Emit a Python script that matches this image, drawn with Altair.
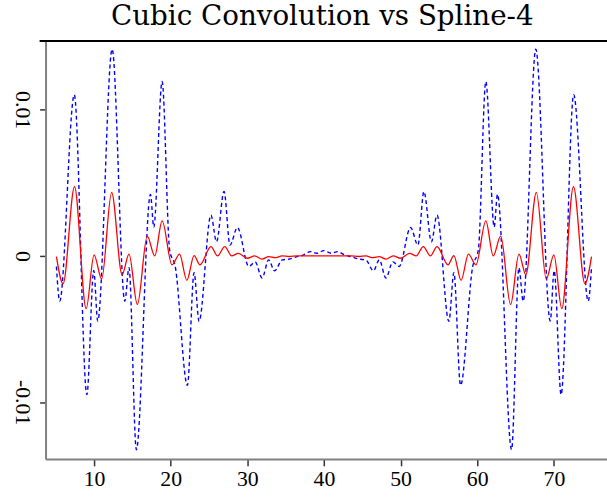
import altair as alt
import pandas as pd

# ---- data ----
red_x = [5.09, 5.96, 7.45, 8.97, 10.0, 10.99, 12.29, 13.66, 14.56, 15.65, 16.94, 17.92, 18.88,
         20.17, 21.15, 22.11, 23.05, 23.82, 25.25, 26.11, 27.05, 27.96, 28.82, 29.99, 30.97,
         31.92, 32.78, 33.60, 34.55, 35.45, 36.5, 40.0,
         43.5, 44.55, 45.45, 46.40, 47.22, 48.08, 49.03, 50.01, 51.18, 52.04, 52.95, 53.89,
         54.75, 56.18, 56.95, 57.89, 58.85, 59.83, 61.12, 62.08, 63.06, 64.35, 65.44, 66.34,
         67.71, 69.01, 70.0, 71.03, 72.55, 74.04, 74.91]
red_y = [-0.00005, -0.00190, 0.00474, -0.00361, 0.00007, -0.00158, 0.00435, -0.00129, 0.00012,
         -0.00332, 0.00135, 0.0, 0.00239, -0.00061, 0.00012, -0.00167, 0.00002, -0.00061,
         0.00063, 0.0, 0.00063, 0.0, 0.00018, -0.00016, 0.0, -0.00022, -0.00005, -0.00012,
         0.0, -0.00004, 0.0, 0.0,
         0.0, -0.00004, 0.0, -0.00012, -0.00005, -0.00022, 0.0, -0.00016, 0.00018, 0.0,
         0.00063, 0.0, 0.00063, -0.00061, 0.00002, -0.00167, 0.00012, -0.00061, 0.00239, 0.0,
         0.00135, -0.00332, 0.00012, -0.00129, 0.00435, -0.00158, 0.00007, -0.00361, 0.00474,
         -0.00190, -0.00005]

blue_x = [5.09, 5.52, 7.42, 9.06, 9.96, 10.48, 12.36, 14.01, 14.56, 15.52, 17.36, 17.79, 18.88,
          19.86, 20.59, 22.18, 23.05, 23.70, 25.25, 25.98, 26.96, 27.74, 28.70, 30.19, 31.02,
          31.92, 32.78, 33.55, 34.55, 35.41, 36.36, 37.35, 38.20, 39.07, 40.00,
          40.93, 41.80, 42.65, 43.64, 44.59, 45.45, 46.45, 47.22, 48.08, 48.98, 49.81, 51.30,
          52.26, 53.04, 54.02, 54.75, 56.30, 56.95, 57.82, 59.41, 60.14, 61.12, 62.21, 62.64,
          64.48, 65.44, 65.99, 67.64, 69.52, 70.04, 70.94, 72.58, 74.48, 74.91]
blue_y = [-0.00072, -0.00309, 0.01102, -0.00948, -0.00100, -0.00445, 0.01413, -0.00309, -0.00081,
          -0.01325, 0.00420, 0.00198, 0.01192, 0.00041, -0.00072, -0.00885, -0.00115, -0.00447,
          0.00278, 0.00097, 0.00440, 0.00074, 0.00194, -0.00072, -0.00041, -0.00151, -0.00027,
          -0.00102, -0.00027, -0.00022, -0.00007, 0.00007, 0.00029, 0.00018, 0.00036,
          0.00018, 0.00029, 0.00007, -0.00007, -0.00022, -0.00027, -0.00102, -0.00027, -0.00151,
          -0.00041, -0.00072, 0.00194, 0.00074, 0.00440, 0.00097, 0.00278, -0.00447, -0.00115,
          -0.00885, -0.00072, 0.00041, 0.01192, 0.00198, 0.00420, -0.01325, -0.00081, -0.00309,
          0.01413, -0.00445, -0.00100, -0.00948, 0.01102, -0.00309, -0.00072]

x_ticks = [10, 20, 30, 40, 50, 60, 70]
y_ticks = [-0.01, 0, 0.01]
y_tick_labels = ["-0.01", "0", "0.01"]

title_text = "Cubic Convolution vs Spline-4"

# ---- layout ----
W, H = 567, 422
x_scale = alt.Scale(domain=[3.67, 76.93], nice=False, zero=False)
y_scale = alt.Scale(domain=[-0.01388, 0.01469], nice=False, zero=False)

label_expr = " : ".join(
    f"datum.value == {v} ? '{t}'" for v, t in zip(y_ticks, y_tick_labels)
) + " : ''"

x_axis = alt.Axis(values=x_ticks, title="", grid=False, tickSize=7, tickColor="#333333",
                  tickWidth=1.5, domainColor="#808080", domainWidth=2,
                  labelFont="Liberation Serif", labelFontSize=22, labelColor="black",
                  labelPadding=3, format="d")
y_axis = alt.Axis(values=y_ticks, title="", grid=False, tickSize=6, tickColor="#333333",
                  tickWidth=1.5, domainColor="#808080", domainWidth=2,
                  labelFont="Liberation Serif", labelFontSize=22, labelColor="black",
                  labelAngle=90, labelAlign="center", labelBaseline="top", labelPadding=7,
                  labelExpr=label_expr)

df_blue = pd.DataFrame({"x": blue_x, "y": blue_y})
df_red = pd.DataFrame({"x": red_x, "y": red_y})

blue = alt.Chart(df_blue).mark_line(
    color="#0000ff", strokeWidth=1.4, strokeDash=[4, 3], interpolate="monotone", clip=True
).encode(
    x=alt.X("x:Q", scale=x_scale, axis=x_axis),
    y=alt.Y("y:Q", scale=y_scale, axis=y_axis),
)

red = alt.Chart(df_red).mark_line(
    color="#ff0000", strokeWidth=1.3, interpolate="monotone", clip=True
).encode(
    x=alt.X("x:Q", scale=x_scale, axis=x_axis),
    y=alt.Y("y:Q", scale=y_scale, axis=y_axis),
)

border = alt.Chart(pd.DataFrame({"a": [0]})).mark_rule(color="black", strokeWidth=2).encode(
    x=alt.value(-6), x2=alt.value(W), y=alt.value(0)
)

chart = alt.layer(border, blue, red).properties(
    width=W,
    height=H,
    title=alt.TitleParams(title_text, font="DejaVu Serif", fontSize=28, fontWeight="normal",
                          color="black", offset=9, dx=-4, anchor="middle"),
    padding={"left": 46, "top": 39, "right": 0, "bottom": 36},
    autosize=alt.AutoSizeParams(type="none"),
).configure_view(stroke="transparent")

chart.save("out.html", embed_options={"renderer": "svg", "actions": False})
